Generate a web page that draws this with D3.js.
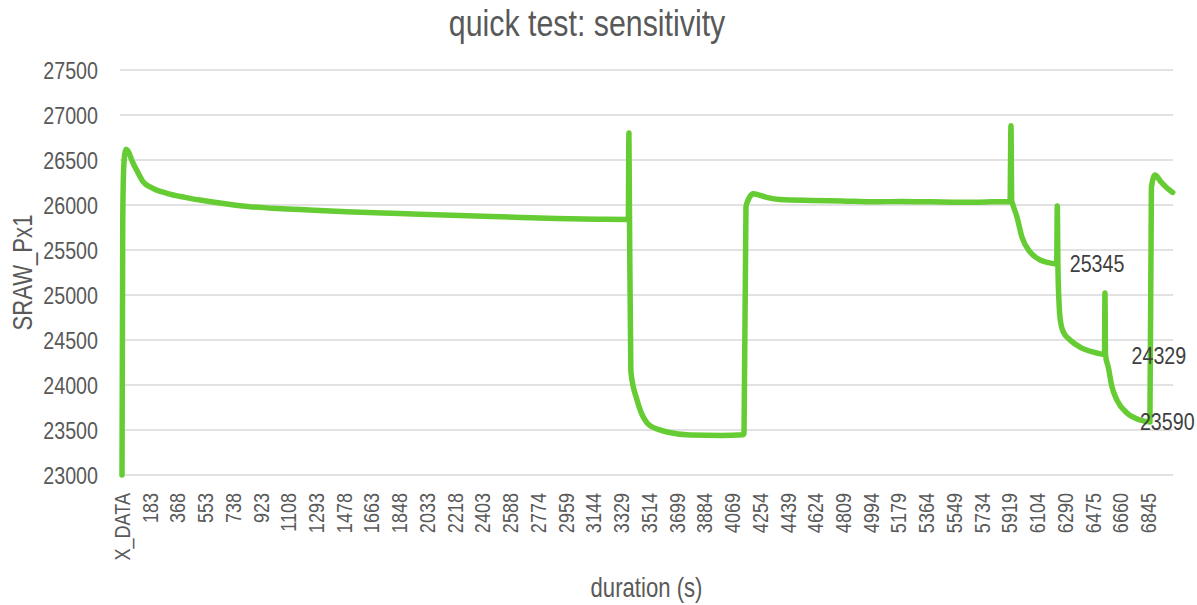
<!DOCTYPE html>
<html>
<head>
<meta charset="utf-8">
<script src="https://cdn.jsdelivr.net/npm/d3@7"></script>
<style>
  html, body { margin: 0; padding: 0; background: #fff; }
  svg { display: block; }
  text { font-family: "Liberation Sans", Arial, sans-serif; }
</style>
</head>
<body>
<svg id="chart" width="1197" height="605"></svg>
<script>
// ---- data ----
const xLabels = ['X_DATA', '183', '368', '553', '738', '923', '1108', '1293', '1478', '1663',
  '1848', '2033', '2218', '2403', '2588', '2774', '2959', '3144', '3329', '3514', '3699',
  '3884', '4069', '4254', '4439', '4624', '4809', '4994', '5179', '5364', '5549', '5734',
  '5919', '6104', '6290', '6475', '6660', '6845'];
const yTicks = [23000, 23500, 24000, 24500, 25000, 25500, 26000, 26500, 27000, 27500];

// duration (s) of each traced point
const durations = [0, 5, 10, 18, 27, 40, 70, 100, 140, 200, 300, 420, 520, 700, 854, 1000,
  1188, 1500, 1855, 2200, 2522, 2900, 3200, 3378,
  3382, 3386, 3395, 3436, 3503, 3570, 3636, 3790, 4000, 4143,
  4150, 4163, 4185, 4210, 4230, 4300, 4390, 4600, 4800, 5000, 5200, 5400, 5600, 5800, 5925,
  5931, 5936, 5942, 5971, 6004, 6058, 6125, 6180, 6236,
  6240, 6244, 6252, 6262, 6280, 6325, 6391, 6478, 6555,
  6558, 6562, 6580, 6605, 6638, 6705, 6792, 6858,
  6868, 6892, 6930, 6972, 7010];
// SRAW_Px1 at each point
const values = [23000, 25800, 26350, 26560, 26620, 26600, 26480, 26380, 26260, 26190, 26130, 26085, 26055, 26010, 25980, 25965,
  25950, 25925, 25905, 25885, 25870, 25850, 25842, 25840,
  26800, 25840, 24150, 23833, 23578, 23510, 23478, 23445, 23440, 23448,
  23460, 25980, 26080, 26125, 26120, 26085, 26060, 26050, 26045, 26035, 26040, 26035, 26030, 26035, 26040,
  26880, 26045, 26010, 25867, 25644, 25478, 25389, 25360, 25345,
  25990, 25340, 24900, 24700, 24590, 24500, 24422, 24367, 24340,
  25022, 24329, 24200, 23978, 23833, 23689, 23611, 23590,
  26200, 26333, 26260, 26189, 26140];

// data labels: [duration, value]
const dataLabels = [[6236, 25345], [6555, 24329], [6858, 23590]];

// ---- layout ----
const W = 1197, H = 605;
const plotL = 120, plotR = 1173, plotT = 70, plotB = 475;
const NARROW = 0.82; // squeeze Liberation Sans to look like Arial Narrow

const svg = d3.select('#chart');

const xTickVals = xLabels.map(l => l === 'X_DATA' ? 0 : +l);

const x = d3.scaleLinear().domain([0, 7012]).range([122, plotR]);
const y = d3.scaleLinear().domain([23000, 27500]).range([plotB, plotT]);

// gridlines
svg.append('g')
  .selectAll('line')
  .data(yTicks)
  .join('line')
  .attr('x1', plotL).attr('x2', plotR)
  .attr('y1', d => y(d)).attr('y2', d => y(d))
  .attr('stroke', '#d9d9d9').attr('stroke-width', 1.5);

// y axis labels
const yAxis = svg.append('g')
  .attr('transform', `translate(${plotL},0)`)
  .call(d3.axisLeft(y).tickValues(yTicks).tickSize(0).tickFormat(d3.format('d')));
yAxis.select('.domain').remove();
yAxis.selectAll('text')
  .attr('font-size', 24).attr('fill', '#595959')
  .attr('x', 0).attr('dy', '0.35em')
  .attr('transform', `translate(-22,0) scale(${NARROW},1)`);

// x axis labels (rotated)
const xAxis = svg.append('g')
  .attr('transform', `translate(0,${plotB})`)
  .call(d3.axisBottom(x).tickValues(xTickVals).tickSize(0)
    .tickFormat((d, i) => xLabels[i]));
xAxis.select('.domain').remove();
xAxis.selectAll('text')
  .attr('font-size', 22).attr('fill', '#595959')
  .attr('text-anchor', 'end')
  .attr('x', 0).attr('y', 0).attr('dy', '0.35em')
  .attr('transform', `rotate(-90) translate(-18,0) scale(${NARROW},1)`);

// series line
const line = d3.line()
  .x((d, i) => x(durations[i]))
  .y(d => y(d))
  .curve(d3.curveMonotoneX);

svg.append('path')
  .datum(values)
  .attr('d', line)
  .attr('fill', 'none')
  .attr('stroke', '#66cc33')
  .attr('stroke-width', 5.5)
  .attr('stroke-linejoin', 'round')
  .attr('stroke-linecap', 'round');

// data labels
const labelDx = [13, 27, -10];
svg.append('g')
  .selectAll('text')
  .data(dataLabels)
  .join('text')
  .attr('transform', (d, i) => `translate(${x(d[0]) + labelDx[i]},${y(d[1])}) scale(${NARROW},1)`)
  .attr('dy', '0.35em')
  .attr('font-size', 24)
  .attr('fill', '#404040')
  .text(d => d[1]);

// titles
svg.append('text')
  .attr('transform', `translate(587,36) scale(${NARROW},1)`)
  .attr('text-anchor', 'middle')
  .attr('font-size', 37).attr('fill', '#595959')
  .text('quick test: sensitivity');

svg.append('text')
  .attr('transform', `translate(32,${(plotT + plotB) / 2}) rotate(-90) scale(${NARROW},1)`)
  .attr('text-anchor', 'middle')
  .attr('font-size', 27).attr('fill', '#595959')
  .text('SRAW_Px1');

svg.append('text')
  .attr('transform', `translate(${(plotL + plotR) / 2},597) scale(${NARROW},1)`)
  .attr('text-anchor', 'middle')
  .attr('font-size', 27).attr('fill', '#595959')
  .text('duration (s)');
</script>
</body>
</html>
